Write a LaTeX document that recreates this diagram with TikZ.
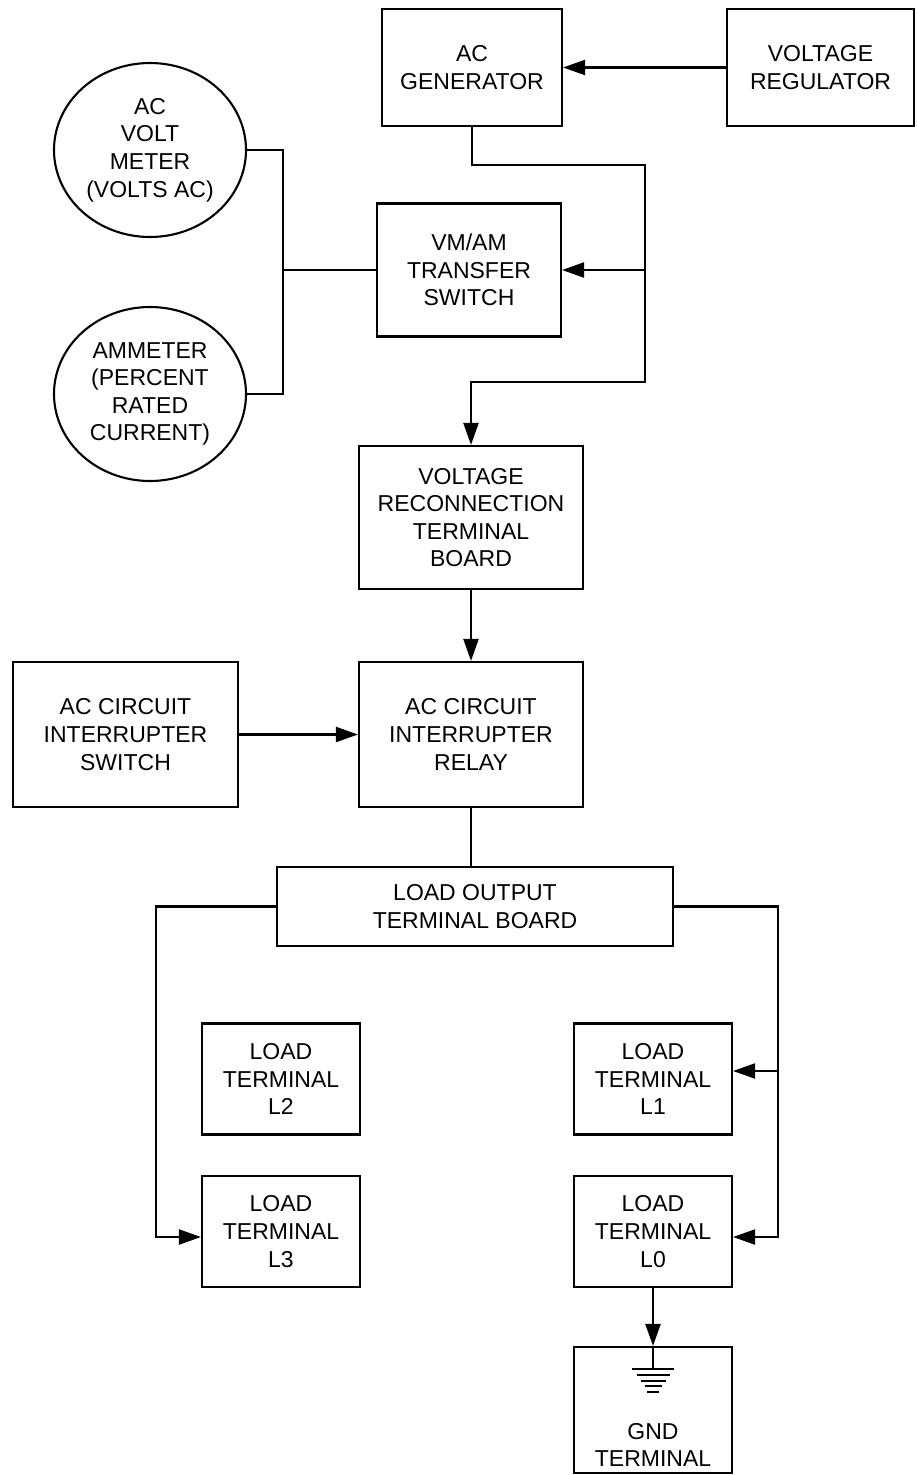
\documentclass[tikz,border=0pt]{standalone}
\usepackage{fontspec}
\setmainfont{Liberation Sans}
\usetikzlibrary{arrows.meta,shapes.geometric}

\begin{document}
\begin{tikzpicture}[x=1pt,y=-1pt,line width=2.1pt,
    font=\fontsize{23}{27.6}\selectfont,
    box/.style 2 args={draw,rectangle,inner sep=0pt,align=center,minimum width=#1,minimum height=#2},
    meter/.style={draw,ellipse,inner sep=0pt,align=center,minimum width=192pt,minimum height=174pt},
    arr/.style={-{Triangle[length=22pt,width=15pt]}}]
            \useasboundingbox (0,0) rectangle (916,1475);
            \node[box={180pt}{117pt}] (gen) at (472,67.5) {AC\\GENERATOR};
            \node[box={187pt}{117pt}] (reg) at (820.5,67.5) {VOLTAGE\\REGULATOR};
            \node[meter] (vm) at (150,150) {AC\\VOLT\\METER\\(VOLTS AC)};
            \node[meter] (am) at (150,394) {AMMETER\\(PERCENT\\RATED\\CURRENT)};
            \node[box={184pt}{133pt}] (vmam) at (469,270) {VM/AM\\TRANSFER\\SWITCH};
            \node[box={224pt}{143pt}] (vrtb) at (471,517.5) {VOLTAGE\\RECONNECTION\\TERMINAL\\BOARD};
            \node[box={225pt}{145pt}] (cis) at (125.5,734.5) {AC CIRCUIT\\INTERRUPTER\\SWITCH};
            \node[box={224pt}{145pt}] (cir) at (471,734.5) {AC CIRCUIT\\INTERRUPTER\\RELAY};
            \node[box={396pt}{79pt}] (lotb) at (475,906.5) {LOAD OUTPUT\\TERMINAL BOARD};
            \foreach \t/\x/\y in {L2/281/1079,L1/653/1079,L3/281/1231.5,L0/653/1231.5}{
                \node[box={158pt}{111pt}] (T-\t) at (\x,\y) {LOAD\\TERMINAL\\\t};
            }
            \node[box={158pt}{126pt}] (gnd) at (653,1410) {};
            \node[align=center] (gnd-txt) at (653,1445) {GND\\TERMINAL};
            % generator feed
            \coordinate (j1) at (645,165);
            \coordinate (j2) at (645,382);
            \draw[arr] (reg) -- (gen);
            \draw[arr] (gen.south) |- (j1) -- (j2) -| (vrtb.north);
            \draw[arr] (j1 |- vmam.east) -- (vmam.east);
            % meters
            \coordinate (bus) at (283,270);
            \draw (vm.east) -| (bus) |- (am.east);
            \draw (bus) -- (vmam.west);
            \draw[arr] (vrtb) -- (cir);
            \draw[arr] (cis) -- (cir);
            \draw (cir.south) -- (cir.south |- lotb.north);
            % load terminals
            \coordinate (lc) at (156,1237);
            \coordinate (rc) at (778,1237);
            \coordinate (rt) at (778,1071);
            \draw[arr] (lotb.west) -| (lc) -- (lc -| T-L3.west);
            \draw[arr] (lotb.east) -| (rc) -- (rc -| T-L0.east);
            \draw[arr] (rt) -- (rt -| T-L1.east);
            \draw[arr] (T-L0) -- (gnd);
            \draw (gnd.north) -- ++(0,22);
            \foreach \w [count=\i from 0] in {21,16.5,12.5,8.5,6}{
                \draw (653-\w,1369+5.8*\i) -- ++(2*\w,0);
            }
        \end{tikzpicture}
\end{document}
